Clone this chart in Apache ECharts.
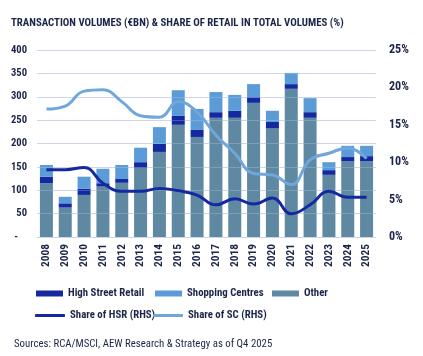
<!DOCTYPE html>
<html><head><meta charset="utf-8">
<script src="https://cdn.jsdelivr.net/npm/echarts@6/dist/echarts.min.js"></script>
<style>html,body{margin:0;padding:0;background:#fff}#c{width:423px;height:356px}</style>
</head><body><div id="c"></div>
<script>
const years = ['2008','2009','2010','2011','2012','2013','2014','2015','2016','2017','2018','2019','2020','2021','2022','2023','2024','2025'];
const other = [115,63,90,108,116,148,182,240,214,255,255,287,233,317,255,133,162,162];
const hsr   = [14,9,13,7,8,12,17,19,15,12,15,12,13,10,12,10,9,11];
const sc    = [25,14,26,31,30,31,36,55,45,43,34,28,24,24,30,17,24,22];
const shareHSR = [9.0,9.0,9.3,7.2,6.1,6.1,6.5,6.2,5.6,4.3,5.1,4.4,5.2,3.1,4.3,6.1,5.3,5.3];
const shareSC  = [17.1,17.5,19.5,19.7,18.1,16.2,16.0,18.1,16.7,13.6,11.2,8.5,8.3,7.0,10.3,11.2,11.9,10.5];
const leftTicks = [50,100,150,200,250,300,350];

const FONT = "'Roboto Condensed','Open Sans Condensed',sans-serif";
const NAVY = '#1c2548';
const C_OTHER = '#5f88a2', C_HSR = '#1428a0', C_SC = '#5b9bd8', C_SCL = '#6fa7dc';

const mc = document.createElement('canvas').getContext('2d');
function fit(text, weight, target){ mc.font = weight+' 100px '+FONT; return Math.round(100*target/mc.measureText(text).width*10)/10; }
const fsTitle = fit('TRANSACTION VOLUMES (€BN) & SHARE OF RETAIL IN TOTAL VOLUMES (%)','bold',334);
const fsSrc = fit('Sources: RCA/MSCI, AEW Research & Strategy as of Q4 2025','normal',258);
const fsLeg = fit('High Street Retail','bold',76);
const fsY = fit('400','bold',16);
const fsX = fit('2008','bold',23);
const fsR = fit('25%','bold',20);

const txt = (size,weight)=>({fontFamily:FONT,fontSize:size,fontWeight:weight,color:NAVY});
function barLegend(name,left){return {data:[name],left:left,top:283,itemWidth:27,itemHeight:6,icon:'rect',textStyle:txt(fsLeg,'bold')};}
function lineLegend(name,left){return {data:[name],left:left,top:305,itemWidth:30,itemHeight:3,icon:'roundRect',textStyle:txt(fsLeg,'bold')};}

const chart = echarts.init(document.getElementById('c'), null, {renderer:'canvas'});
chart.setOption({
  animation:false,
  textStyle:{fontFamily:FONT},
  title:[{text:'TRANSACTION VOLUMES (€BN) & SHARE OF RETAIL IN TOTAL VOLUMES (%)',left:6,top:13,textStyle:txt(fsTitle,'bold')},
    {text:'Sources: RCA/MSCI, AEW Research & Strategy as of Q4 2025',left:9,top:334,textStyle:txt(fsSrc,'normal')}],
  grid:{left:37,right:47,top:50,bottom:119,containLabel:false},
  legend:[barLegend('High Street Retail',31),barLegend('Shopping Centres',150),barLegend('Other',267),
    lineLegend('Share of HSR (RHS)',30),lineLegend('Share of SC (RHS)',148)],
  xAxis:{type:'category',data:years,axisLine:{show:false},axisTick:{show:false},
    axisLabel:Object.assign({rotate:90,interval:0,margin:7},txt(fsX,'bold'))},
  yAxis:[{type:'value',min:0,max:400,interval:50,
      axisLabel:Object.assign({margin:10,formatter:v=>v===0?'{d|-}':String(v),
        rich:{d:Object.assign({padding:[0,9,0,0]},txt(fsY,'bold'))}},txt(fsY,'bold')),
      splitLine:{lineStyle:{color:'#cdd3ea',width:1}},axisLine:{show:false},axisTick:{show:false}},
    {type:'value',min:0,max:25,interval:5,
      axisLabel:Object.assign({margin:13,formatter:'{value}%'},txt(fsR,'bold')),
      splitLine:{show:false},axisLine:{show:false},axisTick:{show:false}}],
  series:[
    {name:'Other',type:'bar',stack:'v',data:other,barWidth:13,itemStyle:{color:C_OTHER},
      markLine:{silent:true,symbol:'none',label:{show:false},z:3,
        lineStyle:{color:'rgba(215,222,240,0.25)',type:'solid',width:1},
        data:leftTicks.map(v=>({yAxis:v}))}},
    {name:'High Street Retail',type:'bar',stack:'v',data:hsr,barWidth:13,itemStyle:{color:C_HSR}},
    {name:'Shopping Centres',type:'bar',stack:'v',data:sc,barWidth:13,itemStyle:{color:C_SC}},
    {name:'Share of HSR (RHS)',type:'line',yAxisIndex:1,data:shareHSR,smooth:0.45,symbol:'none',z:5,
      lineStyle:{color:C_HSR,width:3},itemStyle:{color:C_HSR}},
    {name:'Share of SC (RHS)',type:'line',yAxisIndex:1,data:shareSC,smooth:0.45,symbol:'none',z:5,
      lineStyle:{color:C_SCL,width:3},itemStyle:{color:C_SCL}}
  ]
});
</script></body></html>
